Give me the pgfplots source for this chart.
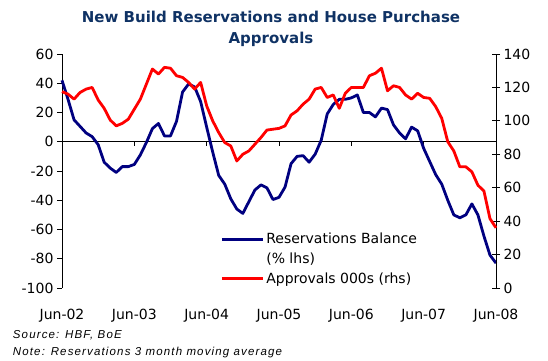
\documentclass[border=0pt]{standalone}
\usepackage{fontspec}
\setmainfont{DejaVu Sans}
\newfontfamily\notefont[LetterSpace=10]{Liberation Sans}
\usepackage{pgfplots}
\pgfplotsset{compat=1.18}
\definecolor{navyline}{RGB}{0,0,128}
\definecolor{titleblue}{RGB}{15,50,100}

\pgfplotstableread{
m res
0 42
1 29
2 15
3 10.5
4 6
5 3.5
6 -2
7 -14
8 -18
9 -21
10 -17
11 -17
12 -15.5
13 -9
14 -0.5
15 9
16 12.5
17 4
18 4
19 14
20 34
21 39.5
22 37.5
23 27.5
24 10
25 -7
26 -23
27 -29
28 -39
29 -46
30 -49
31 -41
32 -33
33 -29.5
34 -31.5
35 -39.5
36 -38
37 -31
38 -15
39 -10
40 -9.5
41 -14
42 -8.5
43 1
44 19
45 25.5
46 29
47 29
48 30
49 32
50 20
51 20
52 17
53 23
54 22
55 11.5
56 6
57 2
58 10
59 7.5
60 -4.5
61 -13.5
62 -22.5
63 -29
64 -40
65 -50
66 -52
67 -50
68 -42.5
69 -50
70 -64.5
71 -77.5
72 -83
}\restable

\pgfplotstableread{
m app
0 117.5
1 116
2 113
3 117
4 119
5 120
6 112.5
7 107.5
8 100.5
9 97
10 98.5
11 101
12 107
13 113
14 122
15 131
16 128
17 132
18 131.5
19 127
20 126
21 123
22 119
23 123
24 109
25 100
26 93
27 87
28 85
29 76
30 80
31 82
32 86
33 90
34 94.5
35 95
36 95.5
37 97
38 103.5
39 106
40 110
41 113
42 119
43 120
44 114
45 115.5
46 107.5
47 116.5
48 120
49 120
50 120
51 127
52 128.5
53 131.5
54 118
55 121
56 120
57 115.5
58 113
59 116.5
60 114
61 113.5
62 108.5
63 101.5
64 87.5
65 82
66 72.5
67 72.5
68 69.5
69 61.5
70 58
71 41.5
72 36
}\apptable

\begin{document}
\begin{tikzpicture}
\useasboundingbox (0,0) rectangle (548pt,360pt);
\pgfplotsset{
  common/.style={
    at={(62pt,72pt)}, anchor=south west,
    scale only axis, width=434pt, height=234pt,
    xmin=0, xmax=72, clip=false,
    axis line style={black, line width=0.9pt},
    every tick/.style={black, line width=0.9pt},
    tick label style={font=\fontsize{14}{16}\selectfont, black},
    /pgf/number format/assume math mode=true,
    yticklabel={\pgfmathprintnumber{\tick}},
  },
}
\begin{axis}[common,
  ymin=-100, ymax=60,
  axis y line*=left, axis x line*=bottom,
  x axis line style={draw=none},
  xtick={0,12,24,36,48,60,72},
  xticklabels={Jun-02,Jun-03,Jun-04,Jun-05,Jun-06,Jun-07,Jun-08},
  xtick style={draw=none},
  xticklabel style={yshift=-18pt},
  ytick={-100,-80,...,60},
  ytick align=outside, major tick length=5pt,
]
\draw[black, line width=0.9pt] (axis cs:0,0) -- (axis cs:72,0);
\pgfplotsinvokeforeach{12,24,36,48,60}{\draw[black, line width=0.9pt] (axis cs:#1,0) -- ([yshift=-4pt]axis cs:#1,0);}
\addplot[navyline, line width=2.8pt, line join=round, no markers] table[x=m, y=res] {\restable};
\end{axis}

\begin{axis}[common,
  ymin=0, ymax=140,
  axis y line*=right, axis x line=none,
  ytick={0,20,...,140},
  ytick align=center, major tick length=8pt,
  legend cell align=left,
  legend image code/.code={\draw[#1] (0pt,0pt) -- (41.6pt,0pt);},
  legend style={at={(0.3645,0.252)}, anchor=north west, draw=none, fill=none,
    inner sep=0pt, row sep=0pt, column sep=0pt,
    font=\fontsize{14}{16}\selectfont,
    nodes={text height=10.5pt, text depth=1.5pt, inner xsep=1.5pt, inner ysep=3.9pt}},
]
\addlegendimage{navyline, line width=2.8pt}
\addlegendentry{Reservations Balance}
\addlegendimage{empty legend}
\addlegendentry{(\% lhs)}
\addplot[red, line width=2.8pt, line join=round, no markers] table[x=m, y=app] {\apptable};
\addlegendentry{Approvals 000s (rhs)}
\end{axis}

\node[anchor=base, font=\fontsize{15}{18}\selectfont\bfseries, text=titleblue, inner sep=0pt] at (271pt,338pt) {New Build Reservations and House Purchase};
\node[anchor=base, font=\fontsize{15}{18}\selectfont\bfseries, text=titleblue, inner sep=0pt] at (271pt,316.7pt) {Approvals};
\node[anchor=base west, inner sep=0pt, font=\notefont\itshape\fontsize{11.5}{13}\selectfont] at (12.7pt,22pt) {Source: HBF, BoE};
\node[anchor=base west, inner sep=0pt, font=\notefont\itshape\fontsize{11.5}{13}\selectfont] at (12.7pt,5pt) {Note: Reservations 3 month moving average};
\end{tikzpicture}
\end{document}
